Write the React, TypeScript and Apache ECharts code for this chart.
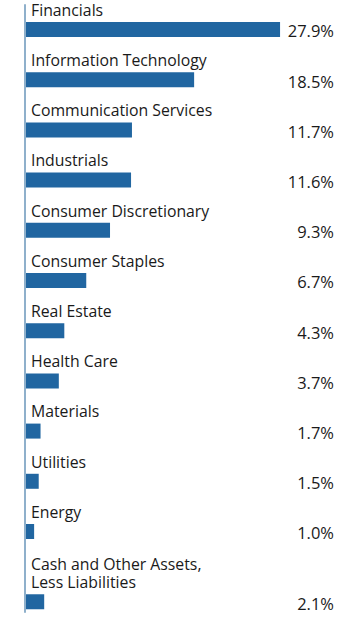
import React, { useEffect, useRef } from "react";
import * as echarts from "echarts";

const categories = [
  "Financials",
  "Information Technology",
  "Communication Services",
  "Industrials",
  "Consumer Discretionary",
  "Consumer Staples",
  "Real Estate",
  "Health Care",
  "Materials",
  "Utilities",
  "Energy",
  "Cash and Other Assets,\nLess Liabilities",
];

const values = [27.9, 18.5, 11.7, 11.6, 9.3, 6.7, 4.3, 3.7, 1.7, 1.5, 1.0, 2.1];

const X_MAX = 33.8;
const BAR_COLOR = "#2166a1";
const AXIS_COLOR = "#8fb0cb";
const FONT = "'Open Sans', sans-serif";

export default function App() {
  const ref = useRef<HTMLDivElement>(null);

  useEffect(() => {
    if (!ref.current) return;
    const chart = echarts.init(ref.current, undefined, { renderer: "svg" });

    // row positions: each row is one unit; extra label lines push a row down
    let extra = 0;
    const data = categories.map((name, i) => {
      extra += (name.split("\n").length - 1) * 0.4;
      return [values[i], i + extra, name];
    });

    chart.setOption({
      animation: false,
      grid: { left: 25, top: 5, width: 309, height: 607 },
      xAxis: {
        type: "value",
        min: 0,
        max: X_MAX,
        show: false,
      },
      yAxis: {
        type: "value",
        inverse: true,
        min: -0.488,
        max: 11.604,
        axisLine: { show: true, lineStyle: { color: AXIS_COLOR, width: 2 } },
        axisTick: { show: false },
        axisLabel: { show: false },
        splitLine: { show: false },
      },
      series: [
        {
          type: "custom",
          data,
          clip: false,
          renderItem: (params: any, api: any) => {
            const v = api.value(0);
            const p = api.value(1);
            const name = categories[params.dataIndex];
            const start = api.coord([0, p]);
            const end = api.coord([v, p]);
            const right = api.coord([X_MAX, p]);
            const h = 15;
            return {
              type: "group",
              children: [
                {
                  type: "rect",
                  shape: { x: start[0] + 1, y: start[1] - h / 2, width: end[0] - start[0] - 1, height: h },
                  style: { fill: BAR_COLOR },
                },
                {
                  type: "text",
                  x: start[0] + 6,
                  y: start[1] - h / 2 - 3,
                  style: {
                    text: name,
                    fill: "#1a1a1a",
                    font: `15.8px ${FONT}`,
                    lineHeight: 18.5,
                    align: "left",
                    verticalAlign: "bottom",
                  },
                },
                {
                  type: "text",
                  x: right[0],
                  y: start[1] + 1.5,
                  style: {
                    text: v.toFixed(1) + "%",
                    fill: "#1a1a1a",
                    font: `16.5px ${FONT}`,
                    align: "right",
                    verticalAlign: "middle",
                  },
                },
              ],
            };
          },
        },
      ],
    });

    return () => chart.dispose();
  }, []);

  return <div ref={ref} style={{ width: 360, height: 617, position: "absolute", left: 0, top: 0 }} />;
}
